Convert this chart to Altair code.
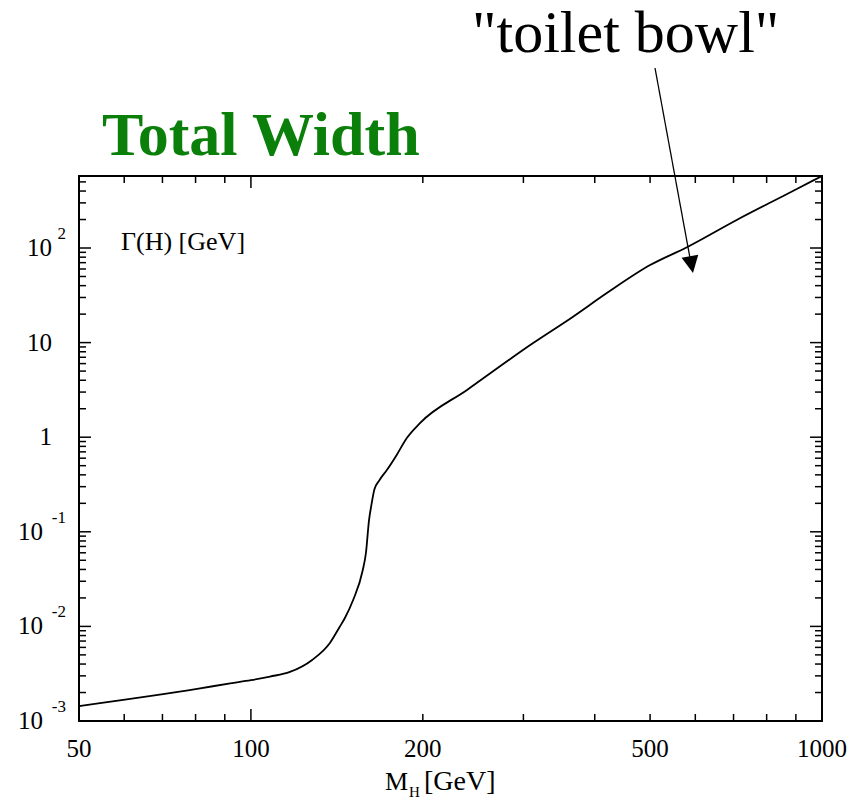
import altair as alt
import pandas as pd

# ---- data ----
mass = [50, 81, 92, 100, 108, 117, 128, 137.5, 143, 146, 151, 157, 159,
        161, 162.5, 164.5, 168, 173, 180, 187.5, 197.7, 239, 312, 366, 420,
        500, 580, 709, 867, 964, 1000]
gamma = [1.44e-3, 2.2e-3, 2.5e-3, 2.7e-3, 2.95e-3, 3.30e-3, 4.42e-3, 6.68e-3,
         9.87e-3, 0.0122, 0.019, 0.0395, 0.0597, 0.133, 0.19, 0.28,
         0.353, 0.45, 0.65, 0.98, 1.41, 3.16, 9.9, 18.7, 33.4, 66, 102, 198,
         370, 515, 577]

x_ticks_long = [100]
x_ticks_short = [60, 70, 80, 90, 200, 300, 400, 500, 600, 700, 800, 900]
y_ticks_long = [0.01, 0.1, 1, 10, 100]
y_ticks_short = [0.002, 0.003, 0.004, 0.005, 0.006, 0.007, 0.008, 0.009,
                 0.02, 0.03, 0.04, 0.05, 0.06, 0.07, 0.08, 0.09,
                 0.2, 0.3, 0.4, 0.5, 0.6, 0.7, 0.8, 0.9,
                 2, 3, 4, 5, 6, 7, 8, 9,
                 20, 30, 40, 50, 60, 70, 80, 90,
                 200, 300, 400, 500]
x_label_vals = [50, 100, 200, 500, 1000]
x_label_text = ["50", "100", "200", "500", "1000"]
y_label_vals = [0.001, 0.01, 0.1, 1, 10, 100]
y_label_base = ["10", "10", "10", "1", "10", "10"]
y_label_exp = ["-3", "-2", "-1", "", "", "2"]

W, H = 743, 545
FONT = "Liberation Serif"
xs = alt.Scale(type="log", domain=[50, 1000], nice=False)
ys = alt.Scale(type="log", domain=[0.001, 577], nice=False)

curve = alt.Chart(pd.DataFrame({"M": mass, "G": gamma})).mark_line(
    color="black", strokeWidth=1.8, interpolate="monotone"
).encode(
    x=alt.X("M:Q", scale=xs, axis=None),
    y=alt.Y("G:Q", scale=ys, axis=None),
)


def yticks(vals, length):
    df = pd.DataFrame({"v": vals})
    left = alt.Chart(df).mark_rule(color="black", strokeWidth=1.5).encode(
        y=alt.Y("v:Q", scale=ys, axis=None), x=alt.value(0), x2=alt.value(length))
    right = alt.Chart(df).mark_rule(color="black", strokeWidth=1.5).encode(
        y=alt.Y("v:Q", scale=ys, axis=None), x=alt.value(W), x2=alt.value(W - length))
    return [left, right]


def xticks(vals, length):
    df = pd.DataFrame({"v": vals})
    bottom = alt.Chart(df).mark_rule(color="black", strokeWidth=1.5).encode(
        x=alt.X("v:Q", scale=xs, axis=None), y=alt.value(H), y2=alt.value(H - length))
    top = alt.Chart(df).mark_rule(color="black", strokeWidth=1.5).encode(
        x=alt.X("v:Q", scale=xs, axis=None), y=alt.value(0), y2=alt.value(length))
    return [bottom, top]


ylab_df = pd.DataFrame({"v": y_label_vals, "b": y_label_base, "e": y_label_exp})
ylab_pos = alt.Chart(ylab_df).transform_filter("datum.v >= 1").mark_text(
    font=FONT, fontSize=25, align="right", baseline="middle", color="black"
).encode(y=alt.Y("v:Q", scale=ys, axis=None), x=alt.value(-27), text="b:N")
ylab_neg = alt.Chart(ylab_df).transform_filter("datum.v < 1").mark_text(
    font=FONT, fontSize=25, align="right", baseline="middle", color="black"
).encode(y=alt.Y("v:Q", scale=ys, axis=None), x=alt.value(-36), text="b:N")
ylab_exp = alt.Chart(ylab_df).mark_text(
    font=FONT, fontSize=17, align="right", baseline="middle", dy=-14, color="black"
).encode(y=alt.Y("v:Q", scale=ys, axis=None), x=alt.value(-13), text="e:N")

xlab = alt.Chart(pd.DataFrame({"v": x_label_vals, "t": x_label_text})).mark_text(
    font=FONT, fontSize=25, align="center", baseline="alphabetic", color="black"
).encode(x=alt.X("v:Q", scale=xs, axis=None), y=alt.value(581), text="t:N")


def label(text, x, y, size, **kw):
    return alt.Chart(pd.DataFrame({"t": [text]})).mark_text(
        font=FONT, fontSize=size, align="left", baseline="alphabetic", **kw
    ).encode(x=alt.value(x), y=alt.value(y), text="t:N")


xtitle_m = label("M", 306, 614, 26, color="black")
xtitle_h = label("H", 330, 621, 15, color="black")
xtitle_g = label("[GeV]", 345, 614, 28, color="black")
gamma_lbl = label("Γ(H) [GeV]", 42, 74, 26, color="black")
title = label("Total Width", 23, -21, 62, color="#0a7f0a", fontWeight="bold")
toilet = label("\"toilet bowl\"", 393, -124, 60, color="black")

arrow_line = alt.Chart(pd.DataFrame({"a": [0]})).mark_rule(
    color="black", strokeWidth=1.3
).encode(x=alt.value(576), y=alt.value(-108), x2=alt.value(611), y2=alt.value(82))
arrow_head = alt.Chart(pd.DataFrame({"a": [0]})).mark_point(
    shape="M0,0 L-0.5,-1 L0.5,-1 Z", size=1156, filled=True, color="black",
    opacity=1, angle=349.5
).encode(x=alt.value(614), y=alt.value(97))

layers = [curve] + yticks(y_ticks_long, 12) + yticks(y_ticks_short, 7) \
    + xticks(x_ticks_long, 12) + xticks(x_ticks_short, 7) \
    + [ylab_pos, ylab_neg, ylab_exp, xlab, xtitle_m, xtitle_h, xtitle_g,
       gamma_lbl, title, toilet, arrow_line, arrow_head]

chart = alt.layer(*layers).properties(
    width=W, height=H, autosize="none",
    padding={"left": 79, "top": 176, "right": 39, "bottom": 79},
    background="white",
).configure_view(stroke="black", strokeWidth=2)

chart.save("out.html", embed_options={"renderer": "svg", "actions": False})
